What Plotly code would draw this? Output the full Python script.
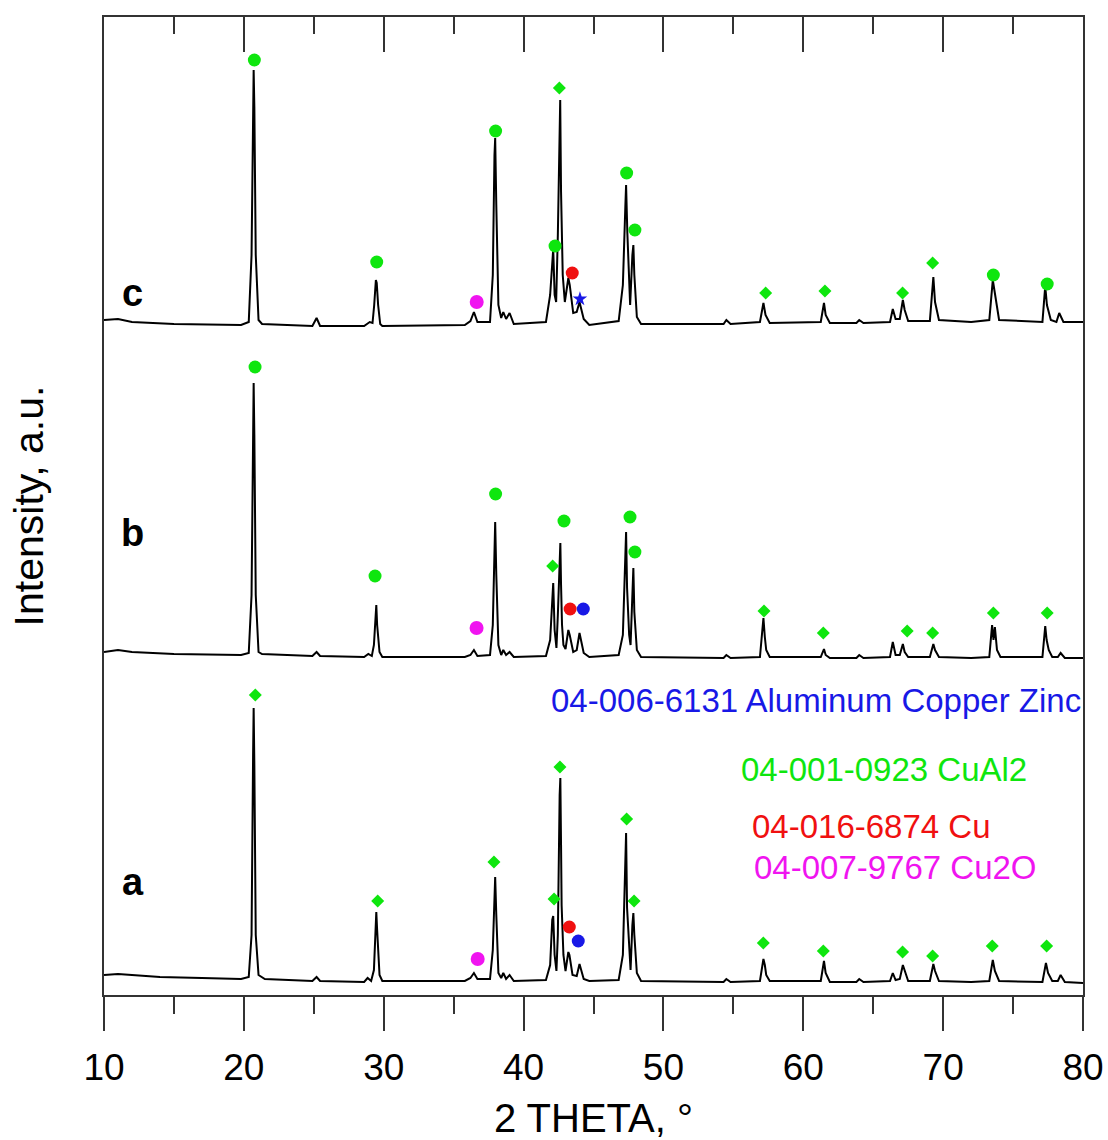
import plotly.graph_objects as go

# ---------------- data ----------------
# pattern a (bottom)
A_THETA = [10.0, 11.0, 12.0, 14.0, 17.0, 19.8, 20.35, 20.55, 20.66, 20.7, 20.75, 20.85, 21.05, 21.3, 21.5,
           24.9, 25.2, 25.45, 28.6, 28.85, 29.1, 29.3, 29.42, 29.47, 29.53, 29.7, 29.9, 35.8, 36.2, 36.45,
           36.7, 37.6, 37.8, 37.92, 37.97, 38.05, 38.2, 38.4, 38.55, 38.75, 39.0, 39.3, 41.6, 41.9, 42.05,
           42.12, 42.22, 42.35, 42.45, 42.58, 42.63, 42.68, 42.72, 42.85, 43.0, 43.2, 43.28, 43.5, 43.8,
           44.0, 44.3, 44.7, 46.8, 47.1, 47.28, 47.33, 47.4, 47.55, 47.65, 47.78, 47.85, 47.92, 48.1, 48.4,
           54.3, 54.5, 54.8, 56.9, 57.15, 57.25, 57.35, 57.6, 61.25, 61.48, 61.6, 61.9, 63.8, 64.0, 64.3,
           66.2, 66.4, 66.6, 66.9, 67.12, 67.25, 67.5, 69.05, 69.3, 69.42, 69.7, 72.0, 73.3, 73.55, 73.7,
           74.0, 77.1, 77.35, 77.5, 77.8, 78.2, 78.4, 78.7, 80.0]
A_INT = [20, 21, 20, 18, 17, 16, 18, 60, 240, 287, 230, 60, 20, 18, 16,
         14, 18, 14, 13, 17, 14, 25, 70, 83, 65, 20, 14, 14, 17, 22,
         16, 16, 45, 110, 118, 80, 22, 17, 22, 16, 20, 14, 15, 30, 75,
         79, 40, 24, 60, 200, 217, 150, 90, 40, 24, 43, 40, 20, 19,
         31, 16, 14, 15, 40, 140, 162, 87, 40, 25, 70, 82, 60, 22, 14,
         13, 16, 13, 14, 36, 30, 20, 14, 14, 34, 22, 13, 13, 16, 13,
         14, 22, 15, 16, 30, 24, 14, 14, 31, 24, 14, 13, 14, 35, 24,
         14, 13, 32, 22, 14, 14, 20, 13, 12]

# pattern b (middle)
B_THETA = [10.0, 11.0, 12.0, 15.0, 19.8, 20.35, 20.55, 20.66, 20.7, 20.75, 20.85, 21.05, 21.3,
           24.9, 25.2, 25.45, 28.6, 28.9, 29.15, 29.3, 29.42, 29.47, 29.53, 29.7, 29.9, 35.8, 36.2, 36.45,
           36.7, 37.6, 37.8, 37.92, 37.97, 38.05, 38.2, 38.4, 38.55, 38.75, 39.0, 39.3, 41.6, 41.9, 42.05,
           42.12, 42.22, 42.35, 42.45, 42.58, 42.63, 42.68, 42.75, 42.85, 43.0, 43.2, 43.3, 43.55, 43.8,
           44.0, 44.3, 44.7, 46.8, 47.1, 47.28, 47.33, 47.4, 47.55, 47.65, 47.78, 47.85, 47.92, 48.1, 48.4,
           54.3, 54.5, 54.8, 56.9, 57.15, 57.25, 57.35, 57.6, 61.25, 61.48, 61.6, 61.9, 63.8, 64.0, 64.3,
           66.2, 66.4, 66.6, 66.9, 67.12, 67.25, 67.5, 69.05, 69.3, 69.42, 69.7, 72.0, 73.3, 73.5, 73.6,
           73.7, 73.85, 74.1, 77.1, 77.3, 77.4, 77.55, 77.8, 78.2, 78.4, 78.7, 80.0]
B_INT = [343, 345, 343, 341, 340, 342, 400, 570, 612, 560, 400, 343, 341,
         339, 343, 339, 338, 341, 339, 350, 375, 390, 370, 343, 338, 338, 340, 345,
         339, 340, 370, 450, 473, 420, 350, 340, 345, 340, 343, 338, 339, 355, 405,
         412, 365, 347, 380, 440, 452, 410, 370, 350, 346, 365, 360, 343, 345,
         362, 342, 338, 340, 360, 440, 463, 407, 360, 350, 410, 427, 383, 345, 338,
         337, 340, 337, 338, 377, 358, 345, 338, 338, 346, 340, 337, 337, 340, 337,
         338, 353, 340, 340, 351, 343, 338, 338, 351, 345, 338, 337, 338, 370, 355,
         368, 345, 338, 338, 369, 355, 345, 338, 338, 342, 337, 337]

# pattern c (top)
C_THETA = [10.0, 11.0, 12.0, 15.0, 19.8, 20.35, 20.55, 20.66, 20.7, 20.75, 20.85, 21.05, 21.3,
           24.9, 25.2, 25.45, 28.6, 29.0, 29.2, 29.32, 29.44, 29.5, 29.6, 29.75, 29.9, 35.8, 36.2, 36.45,
           36.7, 37.6, 37.8, 37.92, 37.97, 38.05, 38.2, 38.4, 38.55, 38.75, 39.0, 39.3, 41.6, 41.9, 42.05,
           42.12, 42.22, 42.33, 42.45, 42.56, 42.62, 42.68, 42.8, 42.95, 43.2, 43.3, 43.55, 43.8,
           44.0, 44.3, 44.7, 46.8, 47.1, 47.28, 47.33, 47.42, 47.55, 47.62, 47.78, 47.85, 47.92, 48.1, 48.4,
           54.3, 54.5, 54.8, 56.9, 57.15, 57.3, 57.6, 61.25, 61.48, 61.6, 61.9, 63.8, 64.0, 64.3,
           66.2, 66.4, 66.6, 66.9, 67.12, 67.25, 67.5, 69.05, 69.3, 69.42, 69.7, 72.0, 73.3, 73.55, 73.7,
           74.0, 77.1, 77.3, 77.42, 77.7, 78.1, 78.3, 78.6, 80.0]
C_INT = [675, 676, 673, 671, 670, 673, 740, 880, 925, 888, 740, 675, 671,
         669, 677, 669, 669, 673, 672, 690, 715, 712, 690, 671, 669, 670, 674, 683,
         673, 673, 720, 840, 857, 790, 690, 677, 683, 676, 682, 671, 673, 700, 740,
         746, 700, 693, 760, 880, 895, 803, 720, 693, 717, 710, 682, 683,
         693, 676, 670, 674, 710, 790, 810, 762, 710, 690, 740, 750, 720, 678, 671,
         671, 675, 671, 673, 692, 680, 672, 673, 692, 680, 672, 672, 675, 672,
         673, 686, 676, 676, 695, 685, 674, 674, 718, 693, 675, 673, 675, 715, 700,
         675, 673, 709, 690, 675, 673, 682, 673, 673]

# phase markers (2theta, intensity position)
CUAL2_DOT_X = [20.75, 29.5, 38.0, 42.25, 47.37, 47.96, 73.59, 77.44,
               20.8, 29.38, 38.0, 42.89, 47.61, 47.96]
CUAL2_DOT_Y = [935, 733, 864, 749, 822, 765, 720, 711,
               628, 419, 501, 474, 478, 443]
CUAL2_DIA_X = [42.56, 57.31, 61.55, 67.1, 69.25,
               42.08, 57.19, 61.43, 67.43, 69.25, 73.59, 77.44,
               20.82, 29.57, 37.88, 42.18, 42.6, 47.37, 47.9, 57.14, 61.43, 67.1, 69.25, 73.51, 77.4]
CUAL2_DIA_Y = [907, 702, 704, 702, 732,
               429, 384, 362, 364, 362, 382, 382,
               300, 94, 133, 96, 228, 176, 94, 52, 44, 43, 39, 49, 49]
CU_X = [43.48, 43.33, 43.27]
CU_Y = [722, 386, 68]
CU2O_X = [36.65, 36.64, 36.72]
CU2O_Y = [693, 367, 36]
ALCUZN_X = [44.27, 43.91]
ALCUZN_Y = [386, 54]
ALCUZN_STAR_X = [44.03]
ALCUZN_STAR_Y = [696]

SAMPLE_LABELS = ["c", "b", "a"]
SAMPLE_LABEL_Y = [702, 462, 113]

PHASES = ["04-006-6131 Aluminum Copper Zinc", "04-001-0923 CuAl2",
          "04-016-6874 Cu", "04-007-9767 Cu2O"]

GREEN = "#0ee60e"
RED = "#f01010"
BLUE = "#1818e6"
MAGENTA = "#f014f0"
FONT = "Liberation Sans, Arial, sans-serif"

fig = go.Figure()
for th, inten in [(A_THETA, A_INT), (B_THETA, B_INT), (C_THETA, C_INT)]:
    fig.add_trace(go.Scatter(x=th, y=inten, mode="lines",
                             line=dict(color="black", width=2), showlegend=False))

fig.add_trace(go.Scatter(x=CUAL2_DOT_X, y=CUAL2_DOT_Y, mode="markers",
                         marker=dict(color=GREEN, size=13, symbol="circle"), showlegend=False))
fig.add_trace(go.Scatter(x=CUAL2_DIA_X, y=CUAL2_DIA_Y, mode="markers",
                         marker=dict(color=GREEN, size=10, symbol="diamond"), showlegend=False))
fig.add_trace(go.Scatter(x=CU_X, y=CU_Y, mode="markers",
                         marker=dict(color=RED, size=13, symbol="circle"), showlegend=False))
fig.add_trace(go.Scatter(x=CU2O_X, y=CU2O_Y, mode="markers",
                         marker=dict(color=MAGENTA, size=14, symbol="circle"), showlegend=False))
fig.add_trace(go.Scatter(x=ALCUZN_X, y=ALCUZN_Y, mode="markers",
                         marker=dict(color=BLUE, size=13, symbol="circle"), showlegend=False))
fig.add_trace(go.Scatter(x=ALCUZN_STAR_X, y=ALCUZN_STAR_Y, mode="markers", xaxis="x2",
                         marker=dict(color=BLUE, size=11, symbol="star"), showlegend=False))

for lab, yy in zip(SAMPLE_LABELS, SAMPLE_LABEL_Y):
    fig.add_annotation(x=12.07, y=yy, text="<b>%s</b>" % lab, showarrow=False,
                       font=dict(family=FONT, size=38, color="black"),
                       xanchor="center", yanchor="middle")

phase_cols = [BLUE, GREEN, RED, MAGENTA]
phase_x = [80.0, 55.4, 56.19, 56.33]
phase_anchor = ["right", "left", "left", "left"]
phase_y = [295, 226, 169, 128]
for txt, col, px, anc, py in zip(PHASES, phase_cols, phase_x, phase_anchor, phase_y):
    fig.add_annotation(x=px, y=py, text=txt, showarrow=False, xanchor=anc, yanchor="middle",
                       font=dict(family=FONT, size=33, color=col))

axis_col = "#333333"
fig.update_layout(
    width=1108, height=1140,
    margin=dict(l=104, r=25, t=17, b=145, autoexpand=False),
    paper_bgcolor="white", plot_bgcolor="white",
    font=dict(family=FONT, color="black"),
    xaxis=dict(range=[10, 80], tickvals=[10, 20, 30, 40, 50, 60, 70, 80],
               automargin=False,
               ticks="outside", ticklen=34, tickwidth=2, tickcolor=axis_col,
               minor=dict(tickvals=[15, 25, 35, 45, 55, 65, 75], ticks="outside",
                          ticklen=17, tickwidth=2, tickcolor=axis_col),
               showline=True, linecolor=axis_col, linewidth=2, mirror=True,
               showgrid=False, zeroline=False,
               tickfont=dict(family=FONT, size=37, color="black"),
               ticklabelstandoff=5,
               title=dict(text="2 THETA, °", font=dict(family=FONT, size=40, color="black"),
                          standoff=23)),
    xaxis2=dict(range=[10, 80], matches="x", overlaying="x", side="top",
                automargin=False,
                tickvals=[10, 20, 30, 40, 50, 60, 70, 80],
                ticks="inside", ticklen=35, tickwidth=2, tickcolor=axis_col,
                minor=dict(tickvals=[15, 25, 35, 45, 55, 65, 75], ticks="inside",
                           ticklen=17, tickwidth=2, tickcolor=axis_col),
                showticklabels=False, showline=False, showgrid=False, zeroline=False),
    yaxis=dict(range=[0, 978], showticklabels=False, ticks="", showgrid=False,
               automargin=False,
               zeroline=False, showline=True, linecolor=axis_col, linewidth=2, mirror=True,
               title=dict(text="Intensity, a.u.", font=dict(family=FONT, size=41, color="black"),
                          standoff=46)),
)

fig.write_html("out.html")
